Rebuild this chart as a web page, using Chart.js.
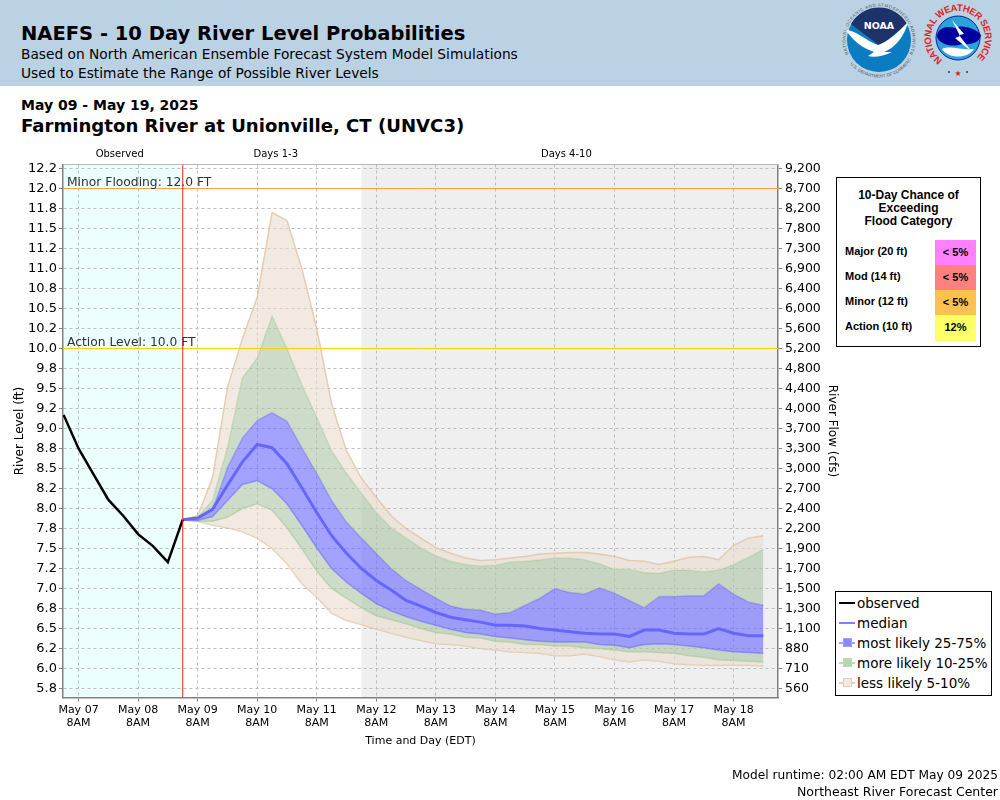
<!DOCTYPE html>
<html>
<head>
<meta charset="utf-8">
<title>NAEFS - 10 Day River Level Probabilities</title>
<script src="https://cdn.jsdelivr.net/npm/chart.js@4/dist/chart.umd.min.js"></script>
<style>
body { margin:0; background:#fff; font-family:"DejaVu Sans",sans-serif; color:#000; }
#page { position:relative; width:1000px; height:800px; overflow:hidden; }
#chart { position:absolute; left:0; top:0; }
.abs { position:absolute; white-space:nowrap; }
#header { position:absolute; left:0; top:0; width:1000px; height:86px; background:#bbd2e5; }
#chance { position:absolute; left:836px; top:177px; width:143px; height:168px; border:1.5px solid #000; background:#fff;
  font-family:"Liberation Sans",Arial,sans-serif; font-weight:bold; }
#chance .ttl { position:absolute; left:0; width:100%; top:11px; text-align:center; font-size:12px; line-height:13px; }
#chance .lab { position:absolute; left:8px; font-size:11px; }
#chance .cell { position:absolute; left:98px; width:41px; text-align:center; font-size:11px; }
#legend { position:absolute; left:835px; top:591px; width:155px; height:103px; border:1.5px solid #000; background:#fff; font-size:13.5px; }
#legend .row { position:absolute; left:3px; height:20px; line-height:20px; white-space:nowrap; }
#legend .ln { position:absolute; left:0; top:9px; width:16px; height:2px; }
#legend .sq { position:absolute; left:4px; top:5px; width:7px; height:7px; border:1px solid; }
#legend .tx { position:absolute; left:18px; top:0; }
</style>
</head>
<body>
<div id="page">
  <div id="header">
    <div class="abs" style="left:21px;top:22px;font-size:19.5px;font-weight:bold">NAEFS - 10 Day River Level Probabilities</div>
    <div class="abs" style="left:21px;top:46px;font-size:13.75px">Based on North American Ensemble Forecast System Model Simulations</div>
    <div class="abs" style="left:21px;top:65px;font-size:13.75px">Used to Estimate the Range of Possible River Levels</div>
    <svg class="abs" style="left:838px;top:2px" width="162" height="82" viewBox="0 0 162 82">
      <defs>
        <path id="noaaTop" d="M10.6,52.1 A33.5,33.5 0 1,1 71.4,52.1"/>
        <path id="noaaBottom" d="M8.5,56.8 A37.5,37.5 0 0,0 73.5,56.8"/>
        <path id="nwsRing" d="M104.5,58.1 A27,27 0 1,1 135.5,58.1"/>
      </defs>
      <text font-size="4.4" fill="#555" font-family="Liberation Sans"><textPath href="#noaaTop" textLength="150">NATIONAL OCEANIC AND ATMOSPHERIC ADMINISTRATION</textPath></text>
      <text font-size="4.4" fill="#555" font-family="Liberation Sans"><textPath href="#noaaBottom" startOffset="8%">U.S. DEPARTMENT OF COMMERCE</textPath></text>
      <circle cx="41" cy="38" r="32" fill="#0a7cc1"/>
      <path d="M13,22 A32,32 0 0 1 69,22 L42,44 Z" fill="#1c3268"/>
      <path d="M8,28 C18,28 30,40 40,43 C50,40 60,30 70,20 C66,36 56,46 46,50 L54,50 C46,54 36,56 30,54 L36,50 C24,46 14,38 8,28 Z" fill="#fff"/>
      <text x="41" y="27" font-size="9.5" font-weight="bold" fill="#fff" text-anchor="middle" font-family="DejaVu Sans">NOAA</text>
      <text font-size="9.5" font-weight="bold" fill="#e2231a" font-family="Liberation Sans"><textPath href="#nwsRing" textLength="132" lengthAdjust="spacing">NATIONAL WEATHER SERVICE</textPath></text>
      <circle cx="120" cy="36" r="22" fill="#29a3d9" stroke="#0a1f8f" stroke-width="1"/>
      <path d="M99,34 C100,24 112,24 116,26 C124,22 138,26 143,33 C142,41 132,43 124,42 C114,46 100,42 99,34 Z" fill="#00009c"/>
      <path d="M114,18 L126,32 L121,33 L134,50 L117,36 L122,34 Z" fill="#fff"/>
      <path d="M104,47 C112,43 126,49 136,47 C130,57 110,57 104,47 Z" fill="#fff"/>
      <circle cx="111" cy="70" r="1" fill="#2a2a9c"/><circle cx="129" cy="70" r="1" fill="#2a2a9c"/>
      <text x="120" y="74" font-size="8" fill="#e2231a" text-anchor="middle">★</text>
    </svg>
  </div>
  <div class="abs" style="left:21px;top:97px;font-size:14px;font-weight:bold">May 09 - May 19, 2025</div>
  <div class="abs" style="left:21px;top:115px;font-size:18.1px;font-weight:bold">Farmington River at Unionville, CT (UNVC3)</div>
  <canvas id="chart" width="1000" height="800"></canvas>
  <div id="chance">
    <div class="ttl">10-Day Chance of<br>Exceeding<br>Flood Category</div>
    <div class="lab" style="top:67px">Major (20 ft)</div><div class="cell" style="top:62px;height:25px;line-height:24px;background:#ff80ff">&lt; 5%</div>
    <div class="lab" style="top:92px">Mod (14 ft)</div><div class="cell" style="top:87px;height:25px;line-height:24px;background:#ff8080">&lt; 5%</div>
    <div class="lab" style="top:117px">Minor (12 ft)</div><div class="cell" style="top:112px;height:25px;line-height:24px;background:#ffc050">&lt; 5%</div>
    <div class="lab" style="top:142px">Action (10 ft)</div><div class="cell" style="top:137px;height:26px;line-height:24px;background:#ffff66">12%</div>
  </div>
  <div id="legend">
    <div class="row" style="top:1px"><span class="ln" style="background:#000"></span><span class="tx">observed</span></div>
    <div class="row" style="top:21px"><span class="ln" style="background:#8080ff"></span><span class="tx">median</span></div>
    <div class="row" style="top:41px"><span class="ln" style="background:#a0a0ff"></span><span class="sq" style="background:#8888ff;border-color:#a0a0ff"></span><span class="tx">most likely 25-75%</span></div>
    <div class="row" style="top:61px"><span class="ln" style="background:#c0d8b8"></span><span class="sq" style="background:#b8d4b0;border-color:#c0d8b8"></span><span class="tx">more likely 10-25%</span></div>
    <div class="row" style="top:81px"><span class="ln" style="background:#e5cdb3"></span><span class="sq" style="background:#f2eae0;border-color:#e5cdb3"></span><span class="tx">less likely 5-10%</span></div>
  </div>
  <div class="abs" style="right:2px;top:768px;font-size:12.2px">Model runtime: 02:00 AM EDT May 09 2025</div>
  <div class="abs" style="right:2px;top:784px;font-size:12.5px">Northeast River Forecast Center</div>
</div>
<script>
// hours counted from May 07 8AM
const observedHours = [-6, 0, 6, 12, 18, 24, 30, 36, 42];
const observedLevel = [9.17, 8.75, 8.43, 8.11, 7.91, 7.68, 7.53, 7.33, 7.86];

const forecastHours = [42, 48, 54, 60, 66, 72, 78, 84, 90, 96, 102, 108, 114, 120, 126, 132, 138, 144, 150, 156,
    162, 168, 174, 180, 186, 192, 198, 204, 210, 216, 222, 228, 234, 240, 246, 252, 258, 264, 270, 276];

const medianLevel = [7.86, 7.88, 7.99, 8.29, 8.58, 8.80, 8.76, 8.56, 8.26, 7.95, 7.66, 7.44, 7.25, 7.10, 6.98, 6.85, 6.78, 6.70, 6.64, 6.61,
    6.58, 6.54, 6.54, 6.53, 6.50, 6.48, 6.46, 6.44, 6.43, 6.43, 6.40, 6.48, 6.48, 6.44, 6.43, 6.43, 6.50, 6.44, 6.41, 6.41];
const p75Level = [7.86, 7.88, 7.98, 8.51, 8.88, 9.10, 9.20, 9.09, 8.76, 8.44, 8.10, 7.83, 7.63, 7.44, 7.25, 7.10, 6.99, 6.88, 6.78, 6.74,
    6.73, 6.68, 6.70, 6.79, 6.88, 7.00, 6.95, 6.93, 7.01, 6.94, 6.85, 6.76, 6.90, 6.90, 6.91, 6.91, 7.06, 6.93, 6.83, 6.79];
const p25Level = [7.86, 7.85, 7.90, 8.10, 8.30, 8.35, 8.25, 8.06, 7.79, 7.51, 7.25, 7.08, 6.94, 6.81, 6.72, 6.65, 6.59, 6.54, 6.49, 6.45,
    6.43, 6.40, 6.38, 6.36, 6.34, 6.33, 6.33, 6.33, 6.30, 6.29, 6.26, 6.30, 6.31, 6.30, 6.28, 6.26, 6.23, 6.21, 6.20, 6.19];
const p90Level = [7.86, 7.89, 8.10, 8.76, 9.63, 9.88, 10.41, 10.00, 9.55, 9.14, 8.72, 8.44, 8.19, 7.95, 7.76, 7.63, 7.51, 7.41, 7.34, 7.30,
    7.28, 7.29, 7.33, 7.34, 7.36, 7.38, 7.38, 7.36, 7.31, 7.24, 7.24, 7.20, 7.19, 7.23, 7.23, 7.21, 7.23, 7.30, 7.39, 7.49];
const p10Level = [7.86, 7.84, 7.84, 7.89, 8.00, 8.06, 7.98, 7.76, 7.50, 7.22, 7.00, 6.88, 6.76, 6.66, 6.61, 6.56, 6.50, 6.45, 6.43, 6.39,
    6.38, 6.34, 6.33, 6.30, 6.30, 6.28, 6.28, 6.26, 6.25, 6.23, 6.21, 6.21, 6.20, 6.19, 6.16, 6.14, 6.11, 6.10, 6.09, 6.08];
const p95Level = [7.86, 7.91, 8.38, 9.51, 10.12, 10.64, 11.70, 11.60, 11.00, 10.25, 9.31, 8.72, 8.38, 8.14, 7.91, 7.75, 7.63, 7.51, 7.44, 7.38,
    7.35, 7.36, 7.38, 7.40, 7.43, 7.44, 7.45, 7.45, 7.43, 7.40, 7.35, 7.34, 7.30, 7.34, 7.39, 7.40, 7.36, 7.54, 7.63, 7.66];
const p05Level = [7.86, 7.84, 7.79, 7.76, 7.71, 7.63, 7.50, 7.31, 7.06, 6.89, 6.69, 6.60, 6.55, 6.49, 6.44, 6.39, 6.35, 6.31, 6.30, 6.28,
    6.25, 6.23, 6.21, 6.20, 6.19, 6.16, 6.16, 6.18, 6.15, 6.11, 6.08, 6.11, 6.09, 6.06, 6.05, 6.04, 6.04, 6.04, 6.04, 6.03];

const stageTicks = [12.25, 12, 11.75, 11.5, 11.25, 11, 10.75, 10.5, 10.25, 10, 9.75, 9.5, 9.25, 9, 8.75, 8.5, 8.25, 8, 7.75, 7.5, 7.25, 7, 6.75, 6.5, 6.25, 6, 5.75];
const stageLabels = ['12.2', '12.0', '11.8', '11.5', '11.2', '11.0', '10.8', '10.5', '10.2', '10.0', '9.8', '9.5', '9.2', '9.0', '8.8', '8.5', '8.2', '8.0', '7.8', '7.5', '7.2', '7.0', '6.8', '6.5', '6.2', '6.0', '5.8'];
const flowLabels = ['9,200', '8,700', '8,200', '7,800', '7,300', '6,900', '6,400', '6,000', '5,600', '5,200', '4,800', '4,400', '4,000', '3,700', '3,300', '3,000', '2,700', '2,400', '2,200', '1,900', '1,700', '1,500', '1,300', '1,100', '880', '710', '560'];

const dayHours = [0, 24, 48, 72, 96, 120, 144, 168, 192, 216, 240, 264];
const dayLabels = ['May 07', 'May 08', 'May 09', 'May 10', 'May 11', 'May 12', 'May 13', 'May 14', 'May 15', 'May 16', 'May 17', 'May 18'];

const periodNames = ['Observed', 'Days 1-3', 'Days 4-10'];
const periodHours = [16.6, 79.5, 196.6];

const xMin = -6.25, xMax = 281.9, yMin = 5.6375, yMax = 12.3;
const runtimeHour = 42, longRangeHour = 114;
const minorLevel = 12, actionLevel = 10;

const pts = (xs, ys) => ys.map((y, i) => ({ x: xs[i], y: y }));

function band(values, border, fill) {
    return {
        data: pts(forecastHours, values),
        borderColor: border,
        borderWidth: 1.5,
        backgroundColor: fill,
        fill: fill ? '+1' : false,
        pointRadius: 0,
        tension: 0
    };
}

const tan = 'rgba(233,220,203,0.6)', tanEdge = 'rgba(222,190,155,0.7)';
const green = 'rgba(172,197,163,0.6)', greenEdge = 'rgba(170,205,160,0.7)';
const blue = 'rgba(102,102,255,0.6)', blueEdge = 'rgba(110,110,255,0.6)';

// backgrounds, top frame edge and period names
const decorPlugin = {
    id: 'decor',
    beforeDraw(chart) {
        let { ctx, chartArea: a, scales } = chart;
        let obsX = scales.x.getPixelForValue(runtimeHour);
        let longX = scales.x.getPixelForValue(longRangeHour);
        ctx.save();
        ctx.fillStyle = '#ebffff';
        ctx.fillRect(a.left, a.top, obsX - a.left, a.height);
        ctx.fillStyle = '#efefef';
        ctx.fillRect(longX, a.top, a.right - longX, a.height);
        ctx.restore();
    },
    afterDatasetsDraw(chart) {
        let { ctx, chartArea: a, scales } = chart;
        ctx.save();
        ctx.strokeStyle = '#b8b8b8';
        ctx.lineWidth = 1;
        ctx.beginPath();
        ctx.moveTo(a.left, a.top);
        ctx.lineTo(a.right, a.top);
        ctx.stroke();

        ctx.fillStyle = '#333';
        ctx.font = '12.3px "DejaVu Sans"';
        ctx.textBaseline = 'alphabetic';
        ctx.fillText('Minor Flooding: 12.0 FT', a.left + 4, scales.y.getPixelForValue(minorLevel) - 3);
        ctx.fillText('Action Level: 10.0 FT', a.left + 4, scales.y.getPixelForValue(actionLevel) - 3);

        ctx.fillStyle = '#000';
        ctx.font = '10px "DejaVu Sans"';
        ctx.textAlign = 'center';
        periodNames.forEach((name, i) => {
            ctx.fillText(name, scales.x.getPixelForValue(periodHours[i]), a.top - 8);
        });
        ctx.restore();
    }
};

new Chart(document.getElementById('chart'), {
    type: 'line',
    data: {
        datasets: [
            { data: pts([runtimeHour, runtimeHour], [yMin, yMax]), borderColor: '#ff2020', borderWidth: 1, pointRadius: 0, fill: false },
            { data: pts([xMin, xMax], [minorLevel, minorLevel]), borderColor: '#ffa040', borderWidth: 1, pointRadius: 0, fill: false },
            { data: pts([xMin, xMax], [actionLevel, actionLevel]), borderColor: '#ffd000', borderWidth: 1, pointRadius: 0, fill: false },
            { data: pts(observedHours, observedLevel), borderColor: '#000', borderWidth: 2.5, pointRadius: 0, fill: false, tension: 0 },
            { data: pts(forecastHours, medianLevel), borderColor: '#6666ff', borderWidth: 3, pointRadius: 0, fill: false, tension: 0 },
            band(p95Level, tanEdge, tan),
            band(p90Level, greenEdge, green),
            band(p75Level, blueEdge, blue),
            band(p25Level, blueEdge, green),
            band(p10Level, greenEdge, tan),
            band(p05Level, tanEdge, null)
        ]
    },
    plugins: [decorPlugin],
    options: {
        responsive: false,
        animation: false,
        devicePixelRatio: 1,
        layout: { padding: { left: 0, right: 155, top: 164.5, bottom: 49.5 } },
        plugins: { legend: { display: false }, tooltip: { enabled: false } },
        scales: {
            x: {
                type: 'linear',
                min: xMin,
                max: xMax,
                afterBuildTicks: axis => { axis.ticks = dayHours.map(h => ({ value: h })); },
                afterFit: axis => { axis.height = 53; },
                ticks: {
                    autoSkip: false,
                    maxRotation: 0,
                    padding: 2,
                    color: '#000',
                    font: { family: 'DejaVu Sans', size: 11 },
                    callback: (v, i) => [dayLabels[i], '8AM']
                },
                grid: { color: '#bdbdbd', tickColor: '#808080', tickLength: 4 },
                border: { color: '#808080', width: 1.5, dash: [3, 3] },
                title: { display: true, text: 'Time and Day (EDT)', color: '#000', font: { family: 'DejaVu Sans', size: 11 }, padding: { top: 4, bottom: 3 } }
            },
            y: {
                position: 'left',
                min: yMin,
                max: yMax,
                afterBuildTicks: axis => { axis.ticks = stageTicks.map(v => ({ value: v })); },
                afterFit: axis => { axis.width = 63; },
                ticks: {
                    autoSkip: false,
                    padding: 2,
                    color: '#000',
                    font: { family: 'DejaVu Sans', size: 13 },
                    callback: (v, i) => stageLabels[i]
                },
                grid: { color: '#bdbdbd', tickColor: '#808080', tickLength: 4 },
                border: { color: '#808080', width: 1.5, dash: [3, 3] },
                title: { display: true, text: 'River Level (ft)', color: '#000', font: { family: 'DejaVu Sans', size: 12 }, padding: { top: 13, bottom: 0 } }
            },
            y2: {
                position: 'right',
                min: yMin,
                max: yMax,
                afterBuildTicks: axis => { axis.ticks = stageTicks.map(v => ({ value: v })); },
                afterFit: axis => { axis.width = 67; },
                ticks: {
                    autoSkip: false,
                    padding: 3,
                    color: '#000',
                    font: { family: 'DejaVu Sans', size: 12.5 },
                    callback: (v, i) => flowLabels[i]
                },
                grid: { drawOnChartArea: false, tickColor: '#808080', tickLength: 4 },
                border: { color: '#808080', width: 1.5 },
                title: { display: true, text: 'River Flow (cfs)', color: '#000', font: { family: 'DejaVu Sans', size: 12 }, padding: { top: 6, bottom: 0 } }
            }
        }
    }
});
</script>
</body>
</html>
